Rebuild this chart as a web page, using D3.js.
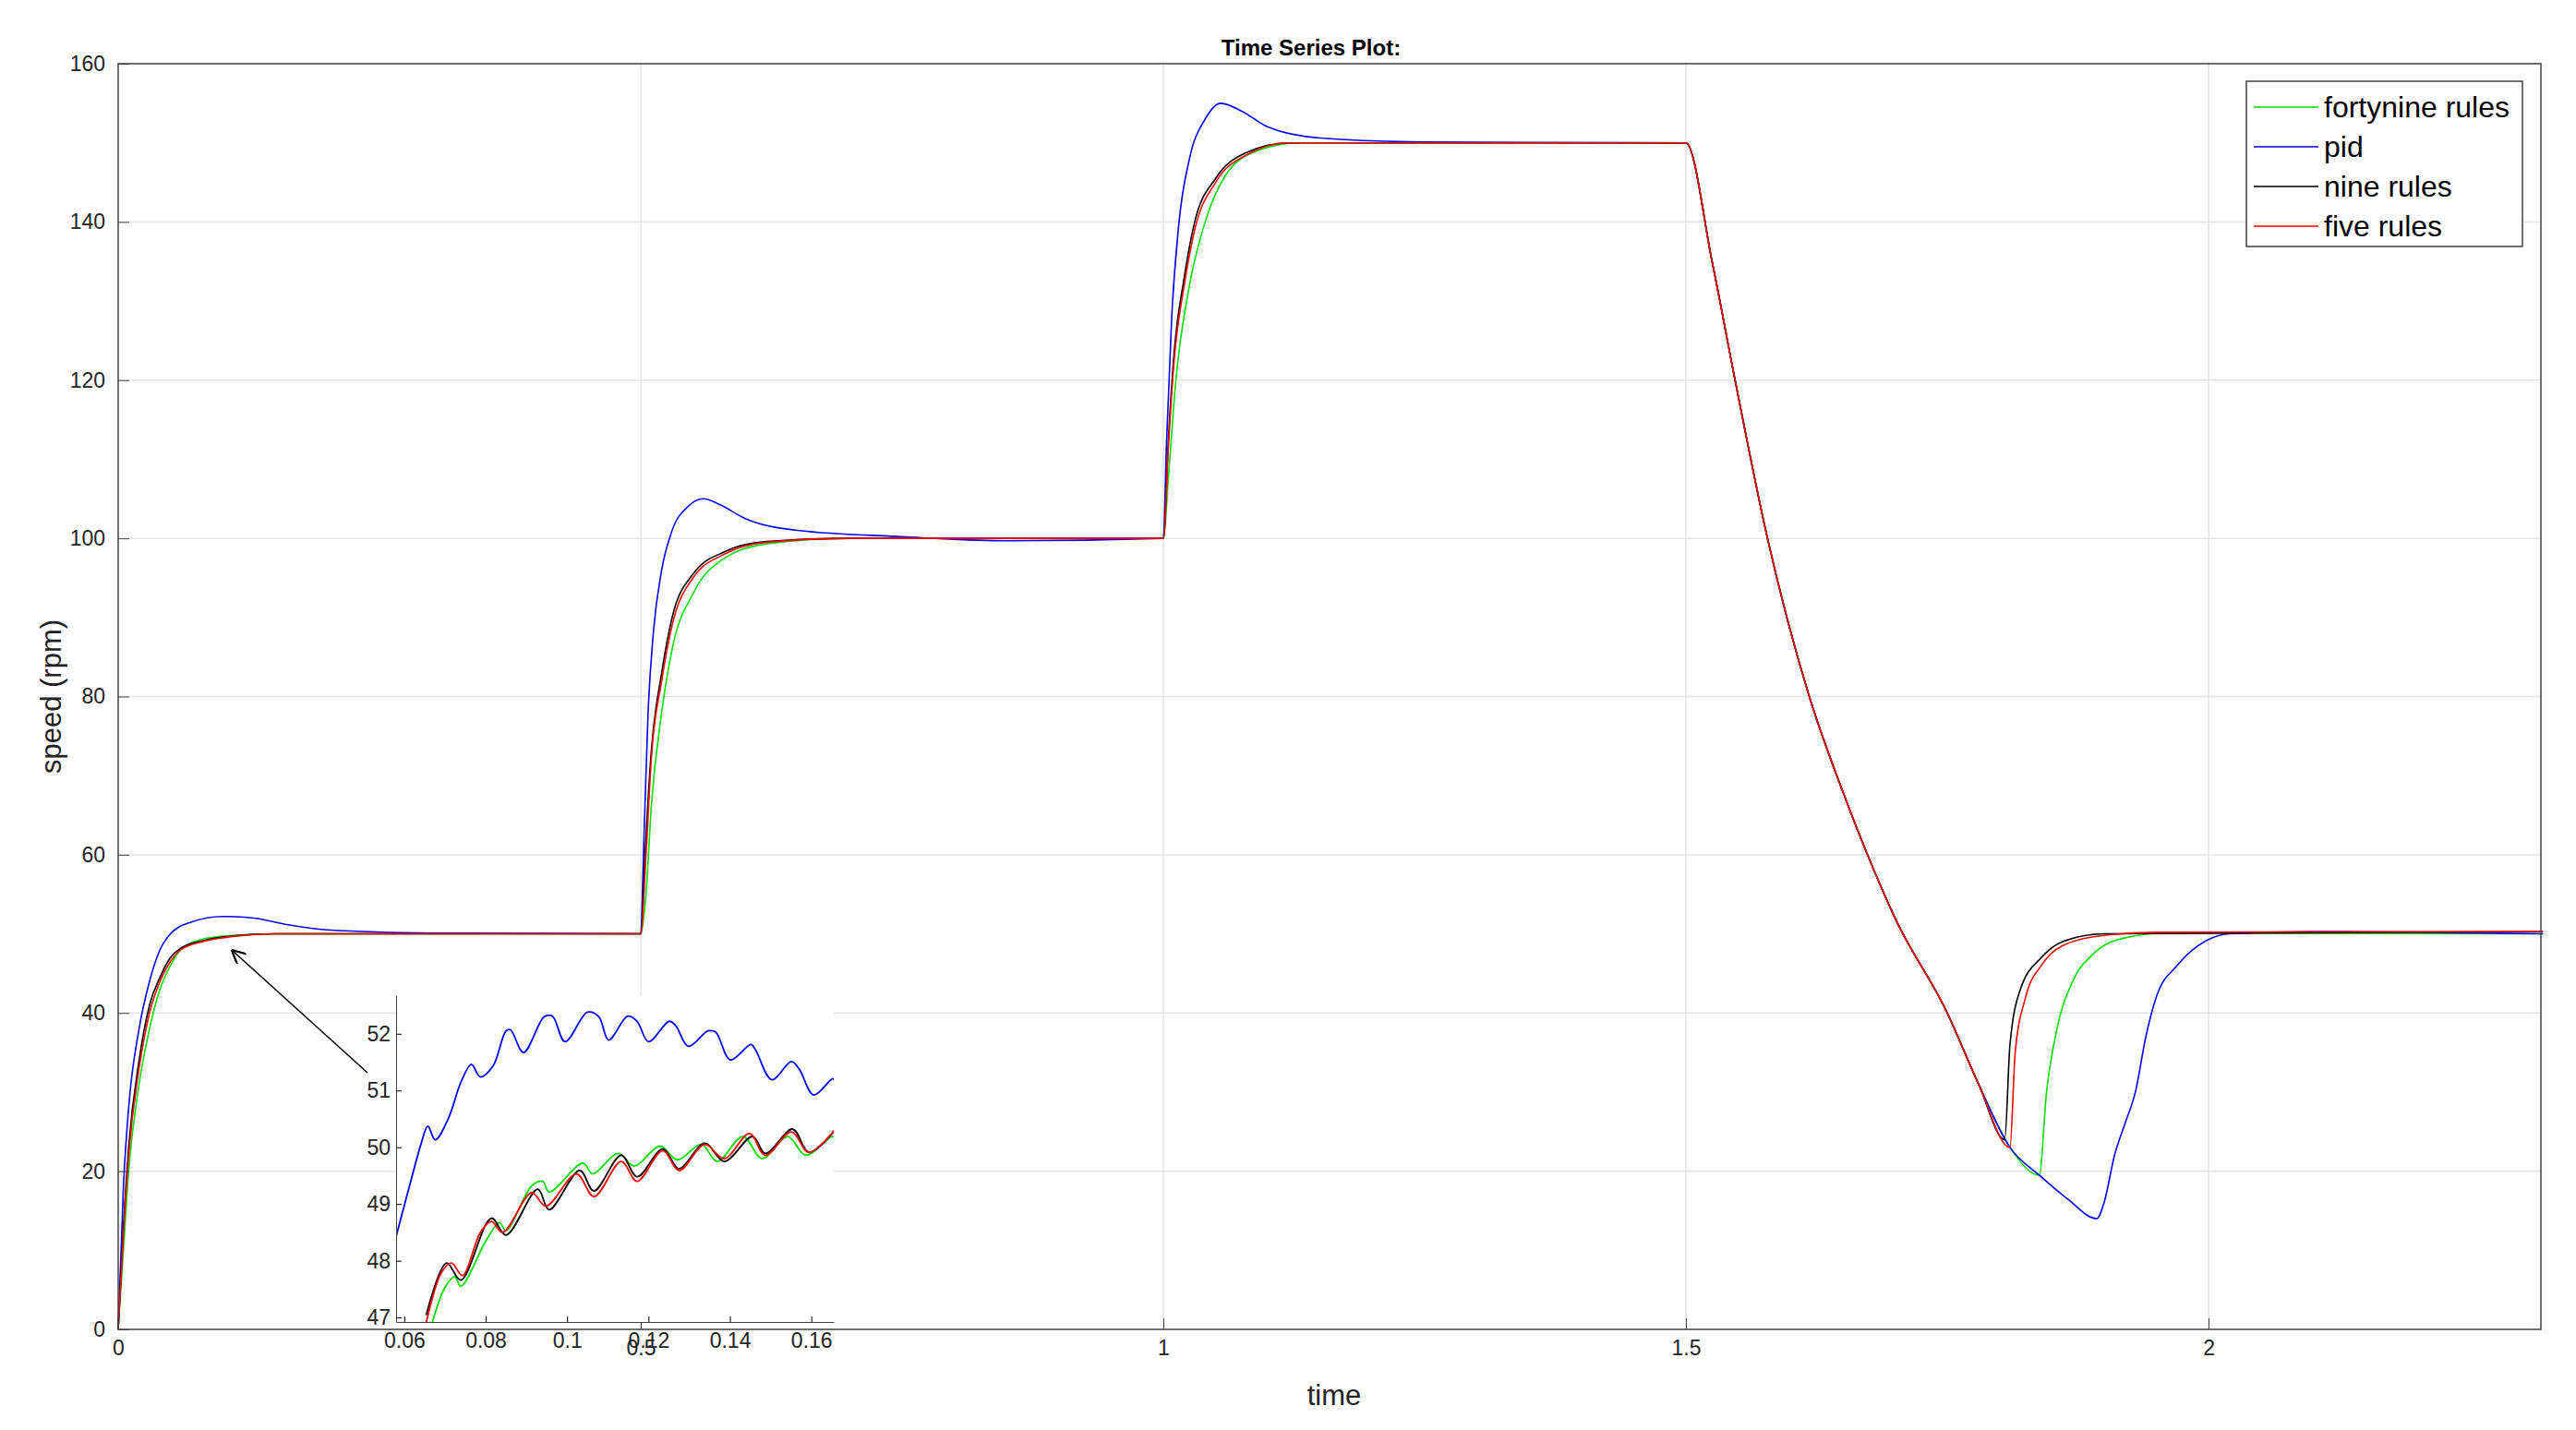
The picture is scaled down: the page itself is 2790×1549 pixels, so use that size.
<!DOCTYPE html>
<html>
<head>
<meta charset="utf-8">
<script src="https://cdn.jsdelivr.net/npm/d3@7"></script>
<style>
  body { margin: 0; background: #fff; }
  text { font-family: Arial, "Liberation Sans", sans-serif; }
</style>
</head>
<body>
<svg id="chart"></svg>
<script>
// series names / colours
const seriesNames = ["fortynine rules", "pid", "nine rules", "five rules"]
const seriesColors = ["#00dd00", "#0000ff", "#000000", "#ff0000"]

// main plot samples [time, speed]
const fortynine = [[0,0],[0.005,10],[0.01,20],[0.02,31],[0.03,38],[0.04,43],[0.05,46],[0.06,48],[0.08,49.3],[0.1,49.7],[0.15,50],[0.5,50],
  [0.505,55],[0.51,66],[0.52,78],[0.53,86],[0.55,93],[0.58,97.5],[0.62,99.3],[0.7,100],[1.0,100],
  [1.005,108],[1.012,120],[1.025,132],[1.04,140],[1.06,146],[1.09,149],[1.13,150],[1.5,150],
  [1.525,135],[1.547,120],[1.578,100],[1.618,80],[1.65,68],[1.68,58],[1.7,52],[1.75,40],[1.78,31],[1.81,23],[1.838,19.5],
  [1.845,30],[1.855,38],[1.87,44],[1.89,47.5],[1.92,49.5],[1.96,50.1],[2.32,50]]
const pid = [[0,0],[0.005,18],[0.01,28],[0.02,38],[0.03,44],[0.04,48],[0.05,50],[0.07,51.5],[0.1,52.2],[0.13,52],[0.16,51.2],[0.2,50.5],[0.3,50.1],[0.5,50],
  [0.503,62],[0.507,78],[0.512,88],[0.52,96],[0.53,101],[0.545,104],[0.56,105],[0.575,104.3],[0.6,102.5],[0.65,101],[0.75,100.2],[0.85,99.7],[1.0,100],
  [1.003,112],[1.008,128],[1.015,140],[1.025,148],[1.04,153],[1.055,155],[1.075,154],[1.1,152],[1.15,150.6],[1.25,150.1],[1.5,150],
  [1.525,135],[1.547,120],[1.578,100],[1.618,80],[1.65,68],[1.68,58],[1.7,52],[1.75,40],[1.78,31],[1.81,23],[1.838,19.5],[1.865,16.5],[1.893,14],
  [1.9,16],[1.91,22],[1.92,26],[1.93,30],[1.94,37],[1.95,42],[1.97,46],[1.99,48.5],[2.02,50],[2.1,50.3],[2.32,50]]
const nine = [[0,0],[0.005,13],[0.01,23],[0.02,34],[0.03,41],[0.04,44.5],[0.05,47],[0.06,48.2],[0.08,49.1],[0.1,49.6],[0.15,50],[0.5,50],
  [0.504,60],[0.51,73],[0.52,83],[0.53,90],[0.55,95.5],[0.58,98.3],[0.62,99.6],[0.7,100],[1.0,100],
  [1.005,113],[1.01,123],[1.02,133],[1.03,140],[1.05,145.5],[1.08,148.8],[1.12,150],[1.5,150],
  [1.525,135],[1.547,120],[1.578,100],[1.618,80],[1.65,68],[1.68,58],[1.7,52],[1.75,40],[1.78,31],[1.805,24],
  [1.81,36],[1.82,43],[1.84,47],[1.86,49],[1.9,50],[2.32,50.3]]
const five = [[0,0],[0.005,12],[0.01,22],[0.02,33],[0.03,40],[0.04,44],[0.05,46.5],[0.06,48],[0.08,49],[0.1,49.5],[0.15,50],[0.5,50],
  [0.505,60],[0.51,72],[0.52,82],[0.53,89],[0.55,95],[0.58,98],[0.62,99.5],[0.7,100],[1.0,100],
  [1.005,112],[1.01,122],[1.02,132],[1.03,139],[1.05,145],[1.08,148.5],[1.12,150],[1.5,150],
  [1.525,135],[1.547,120],[1.578,100],[1.618,80],[1.65,68],[1.68,58],[1.7,52],[1.75,40],[1.78,31],[1.81,23],
  [1.815,35],[1.825,42],[1.84,46],[1.86,48.5],[1.9,49.8],[1.95,50.2],[2.32,50.3]]

// inset (zoom on 0.058 - 0.166)
const insetFortynine = [[0.0669,46.91],[0.07,47.53],[0.0724,47.72],[0.0739,47.55],[0.0802,48.37],[0.0834,48.67],[0.085,48.53],[0.0913,49.32],[0.094,49.4],[0.0956,49.21],[0.1039,49.72],[0.1063,49.53],[0.1125,49.89],[0.1165,49.67],[0.1228,50.02],[0.1271,49.78],[0.133,50.05],[0.1369,49.75],[0.1432,50.19],[0.1479,49.8],[0.1542,50.19],[0.1586,49.86],[0.1653,50.19],[0.1658,50.1]]
const insetPid = [[0.0578,48.37],[0.0629,49.75],[0.0641,50.05],[0.0658,50.37],[0.0676,50.13],[0.0708,50.5],[0.074,51.16],[0.0765,51.46],[0.0787,51.24],[0.0818,51.43],[0.085,52.05],[0.0861,52.07],[0.0893,51.67],[0.0944,52.3],[0.0964,52.31],[0.0995,51.86],[0.105,52.38],[0.1078,52.3],[0.1102,51.89],[0.1149,52.31],[0.1172,52.22],[0.12,51.86],[0.1251,52.22],[0.1267,52.14],[0.1298,51.78],[0.1346,52.05],[0.1365,52.03],[0.1401,51.54],[0.1452,51.81],[0.1464,51.7],[0.1503,51.19],[0.1551,51.51],[0.157,51.38],[0.1606,50.92],[0.1653,51.21],[0.1658,51.13]]
const insetNine = [[0.0654,47.04],[0.0704,47.96],[0.0739,47.66],[0.0814,48.75],[0.085,48.45],[0.0928,49.26],[0.0956,48.9],[0.1031,49.59],[0.1066,49.23],[0.1133,49.86],[0.1172,49.48],[0.1235,49.97],[0.1275,49.62],[0.1338,50.07],[0.1386,49.75],[0.1456,50.19],[0.1487,49.89],[0.1554,50.32],[0.1594,49.91],[0.1658,50.3]]
const insetFive = [[0.0654,46.91],[0.0692,47.8],[0.0716,47.96],[0.0743,47.74],[0.0787,48.5],[0.0814,48.69],[0.0842,48.5],[0.0913,49.2],[0.0948,48.96],[0.1023,49.53],[0.1066,49.13],[0.1133,49.75],[0.1172,49.4],[0.1235,49.94],[0.1275,49.59],[0.1338,50.05],[0.1386,49.8],[0.1448,50.24],[0.1487,49.86],[0.1551,50.27],[0.1594,49.91],[0.1658,50.31]]

const xTicks = [0, 0.5, 1, 1.5, 2]
const yTicks = [0, 20, 40, 60, 80, 100, 120, 140, 160]
const insetXTicks = [0.06, 0.08, 0.1, 0.12, 0.14, 0.16]
const insetYTicks = [47, 48, 49, 50, 51, 52]

const W = 2790, H = 1549
const svg = d3.select("#chart").attr("width", W).attr("height", H)

const L = 128, R = 2752, T = 69, B = 1440
const x = d3.scaleLinear().domain([0, 2.318]).range([L, R])
const y = d3.scaleLinear().domain([0, 160]).range([B, T])

// grid
svg.append("g").selectAll("line").data(xTicks.slice(1)).join("line")
  .attr("x1", d => x(d)).attr("x2", d => x(d)).attr("y1", T).attr("y2", B)
  .attr("stroke", "#e3e3e3").attr("stroke-width", 1.5)
svg.append("g").selectAll("line").data(yTicks.slice(1, -1)).join("line")
  .attr("x1", L).attr("x2", R).attr("y1", d => y(d)).attr("y2", d => y(d))
  .attr("stroke", "#e3e3e3").attr("stroke-width", 1.5)

const line = d3.line().x(d => x(d[0])).y(d => y(d[1])).curve(d3.curveMonotoneX)
const mainData = [fortynine, pid, nine, five]
mainData.forEach((s, i) => {
  svg.append("path").datum(s).attr("d", line)
    .attr("fill", "none").attr("stroke", seriesColors[i]).attr("stroke-width", 1.6)
})

// box + axes
svg.append("rect").attr("x", L).attr("y", T).attr("width", R - L).attr("height", B - T)
  .attr("fill", "none").attr("stroke", "#404040").attr("stroke-width", 1.5)
svg.append("g").attr("transform", `translate(0,${B})`)
  .call(d3.axisBottom(x).tickValues(xTicks).tickSizeInner(-12).tickSizeOuter(0).tickPadding(12).tickFormat(d3.format("")))
  .call(g => g.select(".domain").remove())
  .call(g => g.selectAll("text").attr("font-size", 23).attr("fill", "#222"))
  .call(g => g.selectAll("line").attr("stroke", "#404040"))
svg.append("g").attr("transform", `translate(${L},0)`)
  .call(d3.axisLeft(y).tickValues(yTicks).tickSizeInner(-12).tickSizeOuter(0).tickPadding(14))
  .call(g => g.select(".domain").remove())
  .call(g => g.selectAll("text").attr("font-size", 23).attr("fill", "#222"))
  .call(g => g.selectAll("line").attr("stroke", "#404040"))

svg.append("text").attr("x", (L + R) / 2 - 20).attr("y", 60).attr("text-anchor", "middle")
  .attr("font-size", 24).attr("font-weight", "bold").text("Time Series Plot:")
svg.append("text").attr("x", 1445).attr("y", 1522).attr("text-anchor", "middle")
  .attr("font-size", 31).attr("fill", "#222").text("time")
svg.append("text").attr("transform", `translate(66,${(T + B) / 2}) rotate(-90)`).attr("text-anchor", "middle")
  .attr("font-size", 31).attr("fill", "#222").text("speed (rpm)")

// legend
const lg = svg.append("g").attr("transform", "translate(2433,88)")
lg.append("rect").attr("width", 299).attr("height", 179).attr("fill", "#fff").attr("stroke", "#404040").attr("stroke-width", 1.5)
seriesNames.forEach((n, i) => {
  const yy = 28 + i * 43
  lg.append("line").attr("x1", 8).attr("x2", 78).attr("y1", yy).attr("y2", yy)
    .attr("stroke", seriesColors[i]).attr("stroke-width", 1.6)
  lg.append("text").attr("x", 84).attr("y", yy + 11).attr("font-size", 32).text(n)
})

// inset
const iL = 429, iR = 903, iT = 1078, iB = 1432
const ix = d3.scaleLinear().domain([0.058, 0.1655]).range([iL, iR])
const iy = d3.scaleLinear().domain([46.92, 52.68]).range([iB, iT])
svg.append("rect").attr("x", iL).attr("y", iT).attr("width", iR - iL).attr("height", iB - iT).attr("fill", "#fff")
svg.append("defs").append("clipPath").attr("id", "iclip")
  .append("rect").attr("x", iL).attr("y", iT).attr("width", iR - iL).attr("height", iB - iT)
const iline = d3.line().x(d => ix(d[0])).y(d => iy(d[1])).curve(d3.curveCatmullRom)
const insetData = [insetFortynine, insetPid, insetNine, insetFive]
insetData.forEach((s, i) => {
  svg.append("path").datum(s).attr("d", iline).attr("clip-path", "url(#iclip)")
    .attr("fill", "none").attr("stroke", seriesColors[i]).attr("stroke-width", 1.8)
})
svg.append("g").attr("transform", `translate(0,${iB})`)
  .call(d3.axisBottom(ix).tickValues(insetXTicks).tickSizeInner(-6).tickSizeOuter(0).tickPadding(12).tickFormat(d3.format("")))
  .call(g => g.select(".domain").attr("stroke", "#404040"))
  .call(g => g.selectAll("text").attr("font-size", 23).attr("fill", "#222"))
svg.append("g").attr("transform", `translate(${iL},0)`)
  .call(d3.axisLeft(iy).tickValues(insetYTicks).tickSizeInner(-6).tickSizeOuter(0).tickPadding(6).tickFormat(d3.format("d")))
  .call(g => g.select(".domain").attr("stroke", "#404040"))
  .call(g => g.selectAll("text").attr("font-size", 23).attr("fill", "#222"))

// arrow
svg.append("defs").append("marker").attr("id", "arr").attr("viewBox", "0 0 10 10")
  .attr("refX", 9).attr("refY", 5).attr("markerWidth", 10).attr("markerHeight", 10).attr("orient", "auto")
  .append("path").attr("d", "M0,0 L10,5 L0,10").attr("fill", "none").attr("stroke", "#000").attr("stroke-width", 1.5)
svg.append("line").attr("x1", 398).attr("y1", 1162).attr("x2", 252).attr("y2", 1030)
  .attr("stroke", "#000").attr("stroke-width", 1.5).attr("marker-end", "url(#arr)")
</script>
</body>
</html>
